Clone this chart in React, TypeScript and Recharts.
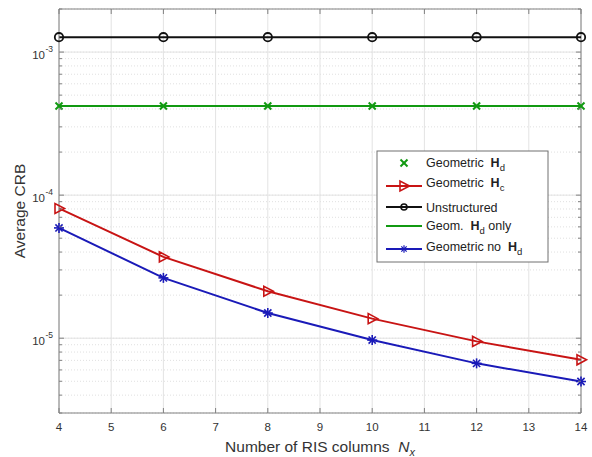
import React from "react";
import {
  LineChart,
  Line,
  XAxis,
  YAxis,
  CartesianGrid,
  ReferenceLine,
} from "recharts";

// N_x values and the averaged CRB for each estimator
const xValues = [4, 6, 8, 10, 12, 14];
const unstructured = [1.27e-3, 1.27e-3, 1.27e-3, 1.27e-3, 1.27e-3, 1.27e-3];
const geometricHd = [4.2e-4, 4.2e-4, 4.2e-4, 4.2e-4, 4.2e-4, 4.2e-4];
const geomHdOnly = [4.2e-4, 4.2e-4, 4.2e-4, 4.2e-4, 4.2e-4, 4.2e-4];
const geometricHc = [8.07e-5, 3.7e-5, 2.13e-5, 1.37e-5, 9.5e-6, 7.06e-6];
const geometricNoHd = [5.9e-5, 2.64e-5, 1.5e-5, 9.7e-6, 6.67e-6, 4.98e-6];

const xTicks = [4, 5, 6, 7, 8, 9, 10, 11, 12, 13, 14];
const yMajorTicks = [1e-5, 1e-4, 1e-3];
const yMajorLabels = ["-5", "-4", "-3"];
const yMinorTicks = [
  3e-6, 4e-6, 5e-6, 6e-6, 7e-6, 8e-6, 9e-6,
  2e-5, 3e-5, 4e-5, 5e-5, 6e-5, 7e-5, 8e-5, 9e-5,
  2e-4, 3e-4, 4e-4, 5e-4, 6e-4, 7e-4, 8e-4, 9e-4,
  2e-3,
];
const yDomain = [3e-6, 2e-3];

const W = 592;
const H = 457;
const LEFT = 59;
const RIGHT = 581;
const TOP = 9;
const BOTTOM = 413;

const FONT = '"Liberation Sans", Arial, Helvetica, sans-serif';
const AXIS = "#808080";
const TEXT = "#333";
const BLACK = "#111";
const GREEN = "#119911";
const RED = "#c81414";
const BLUE = "#1a1ab8";

const data = xValues.map((x, i) => ({
  x,
  unstructured: unstructured[i],
  geometricHd: geometricHd[i],
  geomHdOnly: geomHdOnly[i],
  geometricHc: geometricHc[i],
  geometricNoHd: geometricNoHd[i],
}));

const allYTicks = [...yMajorTicks, ...yMinorTicks].sort((a, b) => a - b);

const majorIndex = (v: number) =>
  yMajorTicks.findIndex((m) => Math.abs(m - v) < m * 1e-6);

// marker shapes
const Circle = ({ cx, cy, color }: { cx: number; cy: number; color: string }) => (
  <circle cx={cx} cy={cy} r={4.2} fill="none" stroke={color} strokeWidth={1.8} />
);
const Cross = ({ cx, cy, color }: { cx: number; cy: number; color: string }) => (
  <g stroke={color} strokeWidth={2}>
    <line x1={cx - 3.5} y1={cy - 3.5} x2={cx + 3.5} y2={cy + 3.5} />
    <line x1={cx - 3.5} y1={cy + 3.5} x2={cx + 3.5} y2={cy - 3.5} />
  </g>
);
const TriRight = ({ cx, cy, color }: { cx: number; cy: number; color: string }) => (
  <polygon
    points={`${cx + 5.5},${cy} ${cx - 4},${cy - 5} ${cx - 4},${cy + 5}`}
    fill="none"
    stroke={color}
    strokeWidth={1.6}
  />
);
const Star = ({ cx, cy, color }: { cx: number; cy: number; color: string }) => (
  <g stroke={color} strokeWidth={1.6}>
    <line x1={cx - 5} y1={cy} x2={cx + 5} y2={cy} />
    <line x1={cx} y1={cy - 5} x2={cx} y2={cy + 5} />
    <line x1={cx - 3.6} y1={cy - 3.6} x2={cx + 3.6} y2={cy + 3.6} />
    <line x1={cx - 3.6} y1={cy + 3.6} x2={cx + 3.6} y2={cy - 3.6} />
  </g>
);

const dotOf =
  (Shape: React.FC<{ cx: number; cy: number; color: string }>, color: string) =>
  (p: any) =>
    <Shape key={`m-${p.index}`} cx={p.cx} cy={p.cy} color={color} />;

const YTick = (props: any) => {
  const { y, payload } = props;
  const idx = majorIndex(payload.value);
  const major = idx >= 0;
  const len = major ? 5 : 3;
  return (
    <g>
      <line x1={LEFT} y1={y} x2={LEFT + len} y2={y} stroke={AXIS} />
      <line x1={RIGHT} y1={y} x2={RIGHT - len} y2={y} stroke={AXIS} />
      {major && (
        <g fontFamily={FONT} fill={TEXT}>
          <text x={45} y={y + 7} fontSize={11.5} textAnchor="end">
            10
          </text>
          <text x={45.5} y={y - 0.5} fontSize={8.5}>
            {yMajorLabels[idx]}
          </text>
        </g>
      )}
    </g>
  );
};

const XTick = (props: any) => {
  const { x, payload } = props;
  return (
    <g>
      <line x1={x} y1={BOTTOM} x2={x} y2={BOTTOM - 5} stroke={AXIS} />
      <line x1={x} y1={TOP} x2={x} y2={TOP + 5} stroke={AXIS} />
      <text x={x} y={431} fontSize={11.5} textAnchor="middle" fontFamily={FONT} fill={TEXT}>
        {payload.value}
      </text>
    </g>
  );
};

const XLabel = () => (
  <text x={320} y={452} fontSize={15.5} textAnchor="middle" fontFamily={FONT} fill={TEXT}>
    Number of RIS columns{"\u00a0\u00a0"}
    <tspan fontStyle="italic">N</tspan>
    <tspan fontStyle="italic" fontSize={11} dy={4}>
      x
    </tspan>
  </text>
);

const YLabel = () => (
  <text
    x={0}
    y={0}
    transform="translate(25 211) rotate(-90)"
    fontSize={15.5}
    textAnchor="middle"
    fontFamily={FONT}
    fill={TEXT}
  >
    Average CRB
  </text>
);

const Sub = ({ children }: { children: React.ReactNode }) => (
  <tspan fontSize={9.5} dy={4}>
    {children}
  </tspan>
);

// legend box, drawn on top of the plot area
const LegendBox = () => (
  <svg
    width={173}
    height={113}
    style={{ position: "absolute", left: 376, top: 150 }}
    fontFamily={FONT}
    fontSize={12.5}
  >
    <rect x={1} y={1} width={171} height={111} fill="#fff" stroke="#707070" />
    <Cross cx={28} cy={13} color={GREEN} />
    <text x={50} y={17} fill="#222">
      Geometric{"\u00a0\u00a0"}
      <tspan fontWeight="bold">H</tspan>
      <Sub>d</Sub>
    </text>
    <line x1={10} y1={36} x2={46} y2={36} stroke={RED} strokeWidth={2} />
    <TriRight cx={28} cy={36} color={RED} />
    <text x={50} y={37} fill="#222">
      Geometric{"\u00a0\u00a0"}
      <tspan fontWeight="bold">H</tspan>
      <Sub>c</Sub>
    </text>
    <line x1={10} y1={57} x2={46} y2={57} stroke={BLACK} strokeWidth={2} />
    <circle cx={28} cy={57} r={3} fill="none" stroke={BLACK} strokeWidth={1.6} />
    <text x={50} y={62} fill="#222">
      Unstructured
    </text>
    <line x1={10} y1={76} x2={46} y2={76} stroke={GREEN} strokeWidth={2} />
    <text x={50} y={80} fill="#222">
      Geom.{"\u00a0\u00a0"}
      <tspan fontWeight="bold">H</tspan>
      <Sub>d</Sub>
      <tspan dy={-4}> only</tspan>
    </text>
    <line x1={10} y1={99} x2={46} y2={99} stroke={BLUE} strokeWidth={2} />
    <g transform="translate(28 99) scale(0.75) translate(-28 -99)">
      <Star cx={28} cy={99} color={BLUE} />
    </g>
    <text x={50} y={101} fill="#222">
      Geometric no{"\u00a0\u00a0"}
      <tspan fontWeight="bold">H</tspan>
      <Sub>d</Sub>
    </text>
  </svg>
);

export default function App() {
  return (
    <div style={{ position: "relative", width: W, height: H, background: "#fff" }}>
      <style>{`body{margin:0;background:#fff}`}</style>
      <LineChart
        width={W}
        height={H}
        data={data}
        margin={{ top: TOP, right: W - RIGHT, left: 0, bottom: 0 }}
      >
        <CartesianGrid horizontal={false} stroke="#e3e3e3" />
        <CartesianGrid vertical={false} stroke="#e0e0e0" strokeDasharray="1 2" />
        {yMajorTicks.map((v) => (
          <ReferenceLine key={`g-${v}`} y={v} stroke="#e3e3e3" />
        ))}
        <ReferenceLine y={yDomain[1]} stroke={AXIS} />
        <ReferenceLine x={14} stroke={AXIS} />
        <XAxis
          dataKey="x"
          type="number"
          domain={[4, 14]}
          ticks={xTicks}
          interval={0}
          height={H - BOTTOM}
          axisLine={{ stroke: AXIS }}
          tickLine={false}
          tick={<XTick />}
          label={<XLabel />}
        />
        <YAxis
          type="number"
          scale="log"
          domain={yDomain}
          allowDataOverflow
          ticks={allYTicks}
          interval={0}
          width={LEFT}
          axisLine={{ stroke: AXIS }}
          tickLine={false}
          tick={<YTick />}
          label={<YLabel />}
        />
        <Line
          dataKey="unstructured"
          stroke={BLACK}
          strokeWidth={2}
          dot={dotOf(Circle, BLACK)}
          isAnimationActive={false}
        />
        <Line
          dataKey="geomHdOnly"
          stroke={GREEN}
          strokeWidth={2}
          dot={false}
          isAnimationActive={false}
        />
        <Line
          dataKey="geometricHd"
          stroke="none"
          dot={dotOf(Cross, GREEN)}
          isAnimationActive={false}
        />
        <Line
          dataKey="geometricHc"
          stroke={RED}
          strokeWidth={2}
          dot={dotOf(TriRight, RED)}
          isAnimationActive={false}
        />
        <Line
          dataKey="geometricNoHd"
          stroke={BLUE}
          strokeWidth={2}
          dot={dotOf(Star, BLUE)}
          isAnimationActive={false}
        />
      </LineChart>
      <LegendBox />
    </div>
  );
}
